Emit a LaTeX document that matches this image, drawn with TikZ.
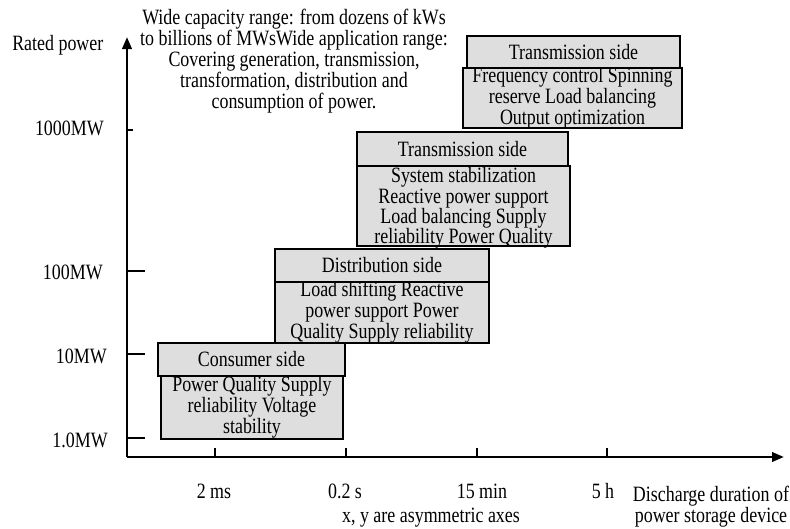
\documentclass[tikz,border=0pt]{standalone}
\usepackage{fontspec}
\setmainfont{Liberation Serif}[FakeStretch=0.82]
\usetikzlibrary{arrows.meta}
\definecolor{boxgray}{RGB}{222,222,222}
\begin{document}
\begin{tikzpicture}[x=0.75pt,y=-0.75pt,
  every node/.style={font=\fontsize{16.4}{15.75}\selectfont, inner sep=0pt},
  box/.style={draw=black, fill=boxgray, line width=0.9pt, align=center, inner sep=0pt},
  axisline/.style={line width=2pt, -{Triangle[length=9pt,width=7pt]}},
  tickline/.style={line width=2pt},
  lbl/.style={align=center}]
\useasboundingbox (0,0) rectangle (790,529);

% axes
\coordinate (o) at (127,457);
\coordinate (ytip) at (127,37);
\coordinate (xtip) at (784,457);
\draw[axisline] (o) -- (ytip);
\draw[axisline] (o) -- (xtip);

% y ticks
\draw[tickline] (127,130) -- (133,130);
\draw[tickline] (127,271) -- (145,271);
\draw[tickline] (127,354) -- (145,354);
\draw[tickline] (127,438) -- (145,438);
% x ticks
\draw[line width=1.2pt] (215,457) -- (215,448);
\draw[line width=1.2pt] (346,457) -- (346,448);
\draw[line width=1.2pt] (477,457) -- (477,448);
\draw[line width=1.2pt] (607,457) -- (607,448);

% axis labels
\node[anchor=west] (rp) at (12,45) {Rated power};
\node[anchor=east] (y1000) at (104,128) {1000MW};
\node[anchor=east] (y100) at (103,272) {100MW};
\node[anchor=east] (y10) at (107,356) {10MW};
\node[anchor=east] (y1) at (108,440) {1.0MW};

\node (x1) at (214,491) {2 ms};
\node (x2) at (345,491) {0.2 s};
\node (x3) at (482,491) {15 min};
\node (x4) at (603,491) {5 h};
\node[lbl] (xl) at (711,507) {Discharge duration of\\power storage device};
\node (note) at (431,518) {x, y are asymmetric axes};

% top text
\node[lbl] (top) at (294,61) {Wide capacity range: from dozens of kWs\\to billions of MWsWide application range:\\Covering generation, transmission,\\transformation, distribution and\\consumption of power.};

% Transmission side (top)
\node[box, minimum width=164.25pt, minimum height=45pt] (t1b) at (572.5,98) {};
\node[lbl] (t1t) at (t1b.center) {Frequency control Spinning\\reserve Load balancing\\Output optimization};
\node[box, minimum width=159.75pt, minimum height=24pt] (t1h) at (573.5,52) {Transmission side};

% Transmission side (middle)
\node[box, minimum width=159.75pt, minimum height=60pt] (t2b) at (463.5,206) {};
\node[lbl, font=\fontsize{16.4}{15.2}\selectfont] (t2t) at (463.5,208) {System stabilization\\Reactive power support\\Load balancing Supply\\reliability Power Quality};
\node[box, minimum width=158.25pt, minimum height=25.5pt] (t2h) at (462.5,149) {Transmission side};

% Distribution side
\node[box, minimum width=160.5pt, minimum height=45.75pt] (db) at (382,312.5) {};
\node[lbl] (dt) at (db.center) {Load shifting Reactive\\power support Power\\Quality Supply reliability};
\node[box, minimum width=160.5pt, minimum height=24.75pt] (dh) at (382,265.5) {Distribution side};

% Consumer side
\node[box, minimum width=136.5pt, minimum height=47.25pt] (cb) at (252,407.5) {};
\node[lbl] (ct) at (cb.center) {Power Quality Supply\\reliability Voltage\\stability};
\node[box, minimum width=140.25pt, minimum height=24.75pt] (ch) at (251.5,359.5) {Consumer side};
\end{tikzpicture}
\end{document}
